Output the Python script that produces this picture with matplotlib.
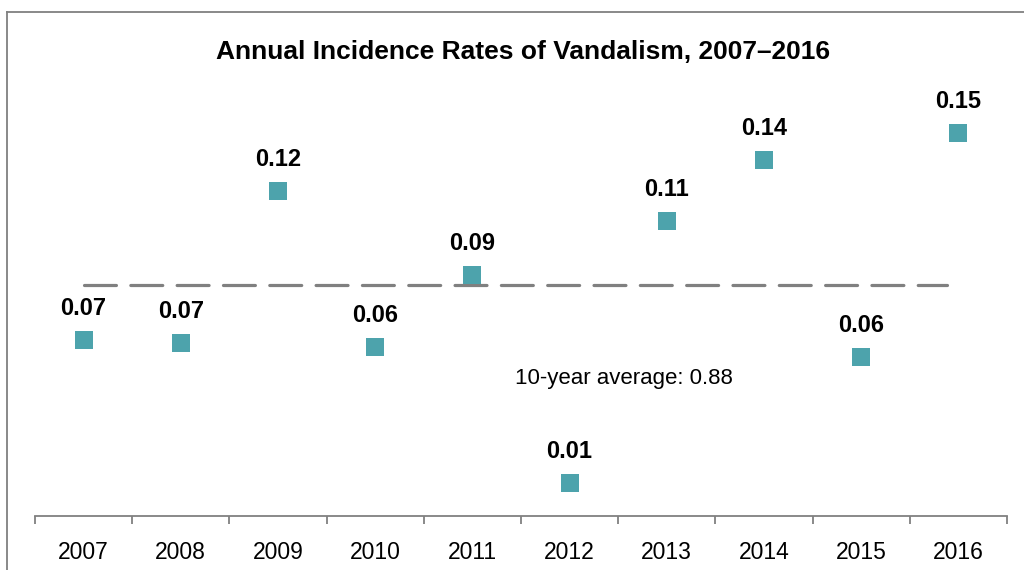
import matplotlib.pyplot as plt
from matplotlib.lines import Line2D

plt.rcParams['font.family'] = ['Liberation Sans', 'DejaVu Sans']

years = ['2007', '2008', '2009', '2010', '2011', '2012', '2013', '2014', '2015', '2016']
rates = [0.0663, 0.0651, 0.1259, 0.0635, 0.0923, 0.0091, 0.1139, 0.1383, 0.0595, 0.1491]
rate_labels = ['0.07', '0.07', '0.12', '0.06', '0.09', '0.01', '0.11', '0.14', '0.06', '0.15']
avg_text = '10-year average: 0.88'

teal = '#4DA3AC'
grey = '#808080'

fig = plt.figure(figsize=(10.24, 5.7), dpi=100)
ax = fig.add_axes([35 / 1024, 54 / 570, 972 / 1024, 504 / 570])

x = list(range(len(years)))
avg = sum(rates) / len(rates)

ax.plot([0, 8.88], [avg, avg], color=grey, lw=2.3, dashes=(10, 4.5),
        dash_capstyle='round', zorder=1)
ax.plot(x, rates, 's', color=teal, markersize=13, markeredgewidth=0, zorder=3)

for xi, v, lab in zip(x, rates, rate_labels):
    ax.annotate(lab, (xi, v), xytext=(0, 23), textcoords='offset points',
                ha='center', va='center', fontsize=17, fontweight='bold')

ax.annotate(avg_text, (5.56, avg), xytext=(0, -67), textcoords='offset points',
            ha='center', va='center', fontsize=16)

ax.set_xlim(-0.5, 9.5)
ax.set_ylim(-0.0041, 0.1975)
ax.set_yticks([])
ax.set_xticks(x)
ax.set_xticklabels(years, fontsize=16.5)
ax.set_xticks([i - 0.5 for i in range(len(years) + 1)], minor=True)
ax.tick_params(axis='x', which='major', length=0, pad=18)
ax.tick_params(axis='x', which='minor', length=5.5, width=1.3, color=grey, direction='out')
for s in ['top', 'right', 'left']:
    ax.spines[s].set_visible(False)
ax.spines['bottom'].set_color(grey)
ax.spines['bottom'].set_linewidth(1.3)

fig.text(523 / 1024, 1 - 52 / 570, 'Annual Incidence Rates of Vandalism, 2007\u20132016',
         ha='center', va='center', fontsize=19, fontweight='bold')

# outer frame (left and top edges visible)
fig.add_artist(Line2D([7 / 1024, 7 / 1024], [0, 1 - 12 / 570], transform=fig.transFigure,
                      color=grey, lw=1.3))
fig.add_artist(Line2D([7 / 1024, 1], [1 - 12 / 570, 1 - 12 / 570], transform=fig.transFigure,
                      color=grey, lw=1.3))

fig.savefig('out.png', dpi=100)
